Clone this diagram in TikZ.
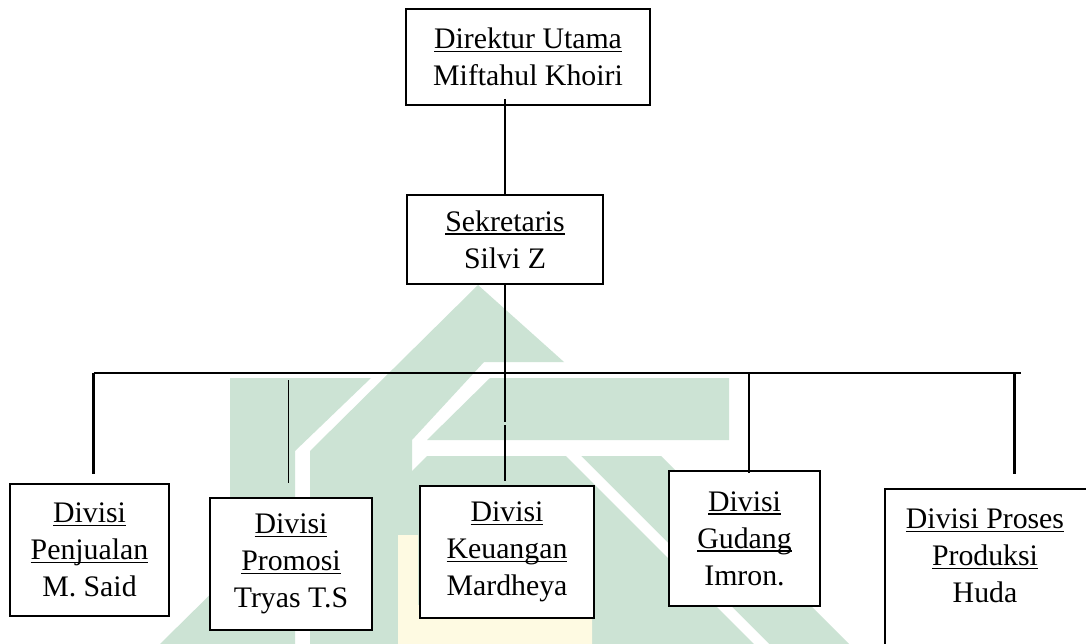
\documentclass[tikz,border=0pt]{standalone}
\usepackage{fontspec}
\setmainfont{Liberation Serif}
\usetikzlibrary{fit}
\definecolor{wmgreen}{RGB}{204,227,212}
\definecolor{wmyellow}{RGB}{254,250,226}
\newcommand{\undl}[1]{\setbox0\hbox{#1}\rlap{\rule[-3.6pt]{\wd0}{1.6pt}}\box0}
\tikzset{
  orgbox/.style={draw=black, line width=2pt, fill=white, inner sep=0pt, align=center,
    font=\fontsize{29.8}{37}\selectfont},
  orgtext/.style={inner sep=0pt, align=center, font=\fontsize{29.8}{37}\selectfont},
  conn/.style={draw=black, line width=2.4pt},
  thinconn/.style={draw=black, line width=1.2pt},
  midconn/.style={draw=black, line width=1.6pt},
  wm/.style={fill=wmgreen, draw=none},
  wmy/.style={fill=wmyellow, draw=none}
}
\begin{document}
\begin{tikzpicture}[x=1pt,y=-1pt]
\useasboundingbox (0,0) rectangle (1086,644);
\clip (0,0) rectangle (1086,644);
\fill[white] (0,0) rectangle (1086,644);
% watermark
\path[wm] (230,378) -- (371,378) -- (295,451) -- (295,644) -- (160,644) -- (230,575) -- cycle;
\path[wm] (478,285) -- (564,362) -- (484,362) -- (412,440) -- (412,644) -- (310,644) -- (310,451) -- cycle;
\path[wm] (490,378) -- (729,378) -- (729,440) -- (427,440) -- cycle;
\path[wm] (427,456) -- (661,456) -- (849,644) -- (412,644) -- (412,471) -- cycle;
\fill[white] (566,456) -- (581,456) -- (769,644) -- (754,644) -- cycle;
\path[wmy] (398,535) -- (418,535) -- (418,605) -- (592,605) -- (592,644) -- (398,644) -- cycle;
% boxes
\node[orgbox, minimum width=244, minimum height=96] (dir) at (528,57)
  {\undl{Direktur Utama}\\Miftahul Khoiri};
\node[orgbox, minimum width=196, minimum height=89] (sek) at (505,239.5)
  {\undl{Sekretaris}\\Silvi Z};
\node[orgbox, minimum width=159, minimum height=132] (pen) at (89.5,550)
  {\undl{Divisi}\\\undl{Penjualan}\\M. Said};
\node[orgbox, minimum width=162, minimum height=132] (pro) at (291,564)
  {\undl{Divisi}\\\undl{Promosi}\\Tryas T.S};
\node[orgbox, minimum width=174, minimum height=132] (keu) at (507,552)
  {\undl{Divisi}\\\undl{Keuangan}\\Mardheya};
\node[orgbox, minimum width=151, minimum height=135] (gud) at (744.5,538.5)
  {\undl{Divisi}\\\undl{Gudang}\\Imron.};
\node[draw=black, line width=2pt, fill=white, inner sep=0pt, fit={(885,489) (1100,720)}] (pros) {};
\node[orgtext] (prosT) at (985,556) {\undl{Divisi Proses}\\\undl{Produksi}\\Huda};
% connector points
\coordinate (dTop) at (505,99);
\coordinate (kBreak) at (505,422);
\coordinate (kRes) at (505,425);
\coordinate (kEnd) at (505,481);
\coordinate (busL) at (93.6,373);
\coordinate (busR) at (1021,373);
\coordinate (penS) at (93.6,373);
\coordinate (penE) at (93.6,474);
\coordinate (proS) at (288.6,380);
\coordinate (proE) at (288.6,483);
\coordinate (gudS) at (749,373);
\coordinate (gudE) at (749,473);
\coordinate (prosS) at (1014.6,373);
\coordinate (prosE) at (1014.6,474);
% connectors
\draw[conn] (dTop) -- (sek.north);
\draw[conn] (sek.south) -- (kBreak);
\draw[midconn] (kRes) -- (kEnd);
\draw[conn] (busL) -- (busR);
\draw[conn] (penS) -- (penE);
\draw[thinconn] (proS) -- (proE);
\draw[conn] (gudS) -- (gudE);
\draw[conn] (prosS) -- (prosE);
\end{tikzpicture}
\end{document}
